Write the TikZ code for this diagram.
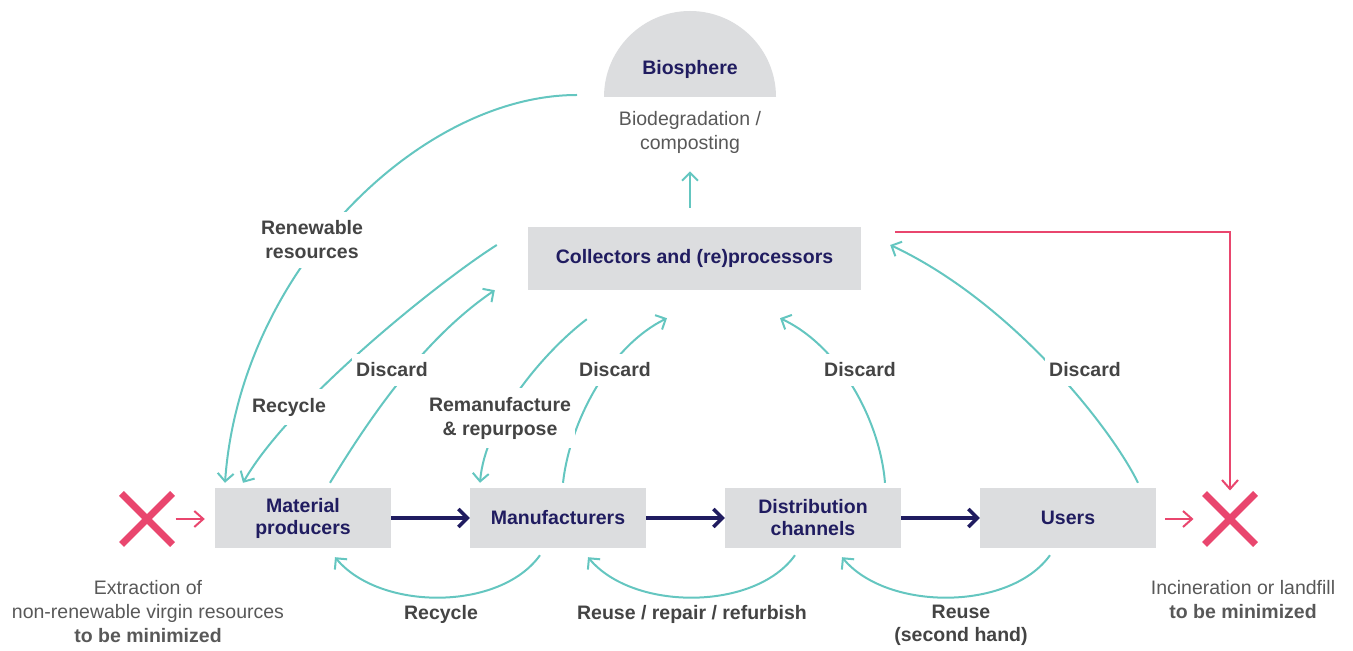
\documentclass[tikz,border=0pt]{standalone}
\usepackage{fontspec}
\setmainfont{Liberation Sans}
\usetikzlibrary{arrows.meta,shapes.misc}
\definecolor{ceteal}{RGB}{100,198,192}
\definecolor{cenavy}{RGB}{32,28,96}
\definecolor{cered}{RGB}{233,70,110}
\definecolor{cebox}{RGB}{220,221,223}
\definecolor{celabel}{RGB}{68,68,68}
\definecolor{cetext}{RGB}{88,88,88}

\begin{document}
\begin{tikzpicture}[x=1pt,y=1pt,
  procbox/.style={fill=cebox,minimum width=176pt,minimum height=60pt,inner sep=0pt,
    text=cenavy,font=\fontsize{19.5}{22}\selectfont\bfseries,align=center},
  loop/.style={draw=ceteal,line width=2pt,-{Straight Barb[length=8pt,width=16pt]}},
  supply/.style={draw=cenavy,line width=3.5pt,-{Straight Barb[length=9pt,width=18pt]}},
  leak/.style={draw=cered,line width=2pt,-{Straight Barb[length=9pt,width=16pt]}},
  redcross/.style={cross out,draw=cered,line width=7pt,minimum size=44pt,inner sep=0pt},
  gaplabel/.style={fill=white,text=celabel,font=\fontsize{19.5}{24}\selectfont\bfseries,
    align=center,inner xsep=4pt,inner ysep=9pt},
  looplabel/.style={text=celabel,font=\fontsize{19.5}{23}\selectfont\bfseries,align=center,inner sep=0pt},
  sidenote/.style={text=cetext,font=\fontsize{19.5}{24}\selectfont,align=center,inner sep=0pt}]
\useasboundingbox (0,0) rectangle (1353,651);

\fill[cebox] (604,554) arc[start angle=180,end angle=0,radius=86] -- cycle;
\coordinate (biobase) at (690,554);
\node[text=cenavy,font=\fontsize{19.5}{22}\selectfont\bfseries] (bio) at (690,582) {Biosphere};
\node[sidenote] (biotext) at (690,519) {Biodegradation /\\composting};

\node[procbox,minimum width=333pt,minimum height=63pt] (coll) at (694.5,392.5) {Collectors and (re)processors};
\node[procbox] (mat) at (303,133) {Material\\producers};
\node[procbox] (man) at (558,133) {Manufacturers};
\node[procbox] (dist) at (813,133) {Distribution\\channels};
\node[procbox] (users) at (1068,133) {Users};

\node[redcross] (xl) at (147,132) {};
\node[redcross] (xr) at (1230,132) {};

\draw[supply] (mat.east) -- (man.west);
\draw[supply] (man.east) -- (dist.west);
\draw[supply] (dist.east) -- (users.west);

\draw[leak] ([xshift=3pt]xl.east) -- ([xshift=-10pt]xl.east -| mat.west);
\draw[leak] ([xshift=9pt]xr.west -| users.east) -- ([xshift=-11pt]xr.west);
\draw[leak] ([shift={(34,-5)}]coll.north east) -| ([yshift=3pt]xr.north);

\draw[loop] ([shift={(-4.5,19)}]coll.north) -- ([shift={(0,-18)}]biotext.south);
\draw[loop] ([shift={(-113,2)}]biobase) .. controls +(-157,0) and +(15,212) .. ([shift={(-78,5)}]mat.north);
\draw[loop] ([shift={(-31,13.5)}]coll.west) .. controls +(-57,-36) and +(47,82) .. ([shift={(-60,5)}]mat.north);
\draw[loop] ([shift={(27,5)}]mat.north) .. controls +(35,57) and +(-75,-51) .. ([shift={(-33,0)}]coll.south west);
\draw[loop] ([shift={(59,-29)}]coll.south west) .. controls +(-42,-32) and +(5,62) .. ([shift={(-78,5)}]man.north);
\draw[loop] ([shift={(5,5)}]man.north) .. controls +(7,62) and +(-57,-28) .. ([shift={(-27.5,-28)}]coll.south);
\draw[loop] ([shift={(72,5)}]dist.north) .. controls +(-5,62) and +(60,-28) .. ([shift={(85.5,-28)}]coll.south);
\draw[loop] ([shift={(70,5)}]users.north) .. controls +(-28,57) and +(120,-56) .. ([shift={(29,13.5)}]coll.east);

\draw[loop] ([shift={(-18,-7)}]man.south) .. controls +(-40,-56) and +(45,-54) .. ([shift={(32,-9)}]mat.south);
\draw[loop] ([shift={(-18,-7)}]dist.south) .. controls +(-40,-56) and +(45,-54) .. ([shift={(30,-9)}]man.south);
\draw[loop] ([shift={(-18,-7)}]users.south) .. controls +(-40,-56) and +(45,-54) .. ([shift={(29,-9)}]dist.south);

\node[gaplabel] (renew) at (312,411) {Renewable\\resources};
\node[gaplabel] (recup) at (289,244) {Recycle};
\node[gaplabel] (discmat) at (392,281) {Discard};
\node[gaplabel] (reman) at (500,233) {Remanufacture\\\& repurpose};
\node[gaplabel] (discman) at (615,281) {Discard};
\node[gaplabel] (discdist) at (860,281) {Discard};
\node[gaplabel] (discusers) at (1085,281) {Discard};

\node[looplabel] (reclow) at (441,37) {Recycle};
\node[looplabel] (reuse) at (692,37) {Reuse / repair / refurbish};
\node[looplabel] (reuse2) at (961,26) {Reuse\\(second hand)};

\node[sidenote] (extract) at (148,39) {Extraction of\\non-renewable virgin resources\\\textbf{to be minimized}};
\node[sidenote] (incin) at (1243,51.5) {Incineration or landfill\\\textbf{to be minimized}};
\end{tikzpicture}
\end{document}
